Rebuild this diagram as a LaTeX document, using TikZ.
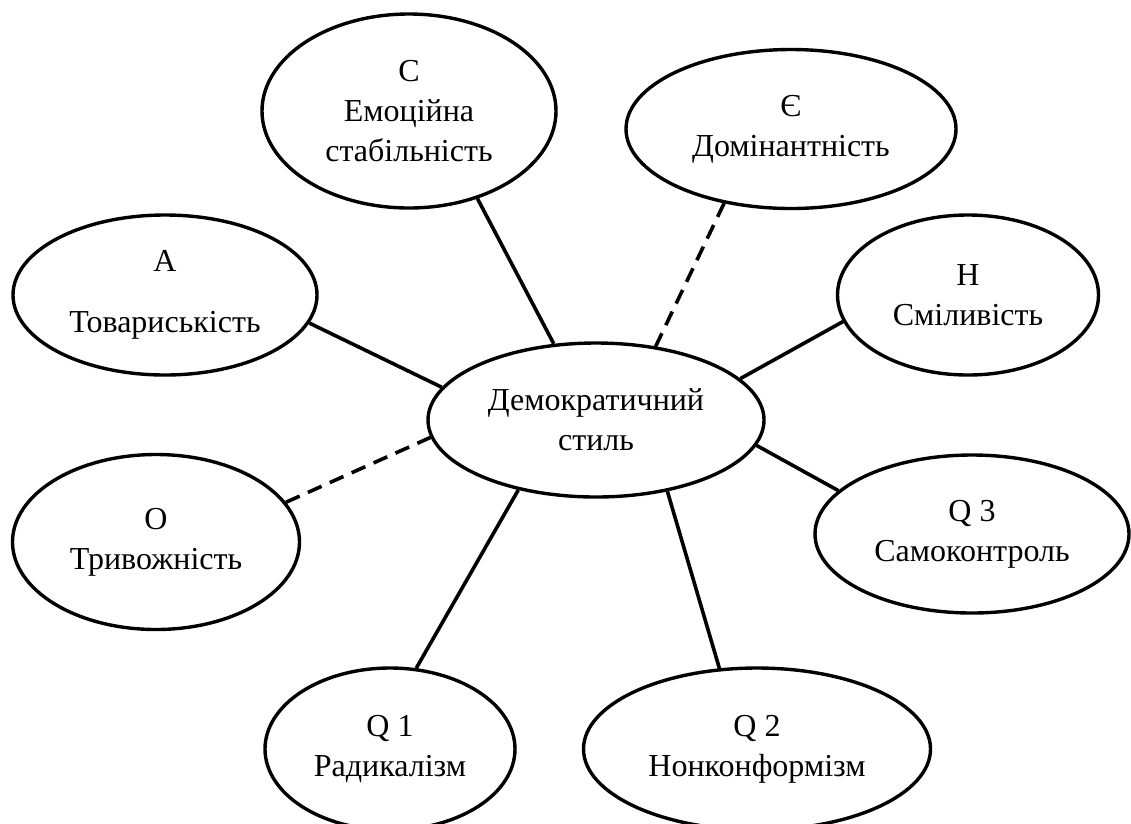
\documentclass[tikz,border=0pt]{standalone}
\usepackage{fontspec}
\setmainfont{Liberation Serif}
\usetikzlibrary{shapes.geometric}
\begin{document}
\begin{tikzpicture}[x=1pt,y=-1pt,
  bub/.style={ellipse, draw, line width=3.4pt, inner sep=0pt, align=center,
    font=\fontsize{32}{40}\selectfont, text=black},
  link/.style={line width=3.6pt},
  dlink/.style={line width=3.6pt, dash pattern=on 15pt off 9pt}]
\clip (0,0) rectangle (1131,823);
\fill[white] (0,0) rectangle (1131,823);
\node[bub, minimum width=336pt, minimum height=154pt] (m) at (596,420) {Демократичний\\стиль};
\node[bub, minimum width=294pt, minimum height=194pt] (c) at (409,111) {С\\Емоційна\\стабільність};
\node[bub, minimum width=330pt, minimum height=159pt] (e) at (791,129) {Є\\Домінантність};
\node[bub, minimum width=304pt, minimum height=160pt] (a) at (165,295) {А\\[21pt]Товариськість};
\node[bub, minimum width=261pt, minimum height=160pt] (h) at (968,295) {Н\\Сміливість};
\node[bub, minimum width=314pt, minimum height=158pt] (q3) at (972,534) {Q 3\\Самоконтроль};
\node[bub, minimum width=287pt, minimum height=175pt] (o) at (156,542) {О\\Тривожність};
\node[bub, minimum width=250pt, minimum height=162pt] (q1) at (390,749) {Q 1\\Радикалізм};
\node[bub, minimum width=347pt, minimum height=162pt] (q2) at (757,749) {Q 2\\Нонконформізм};
\draw[link] (a.-11.6) -- (m.168.8);
\draw[link] (c.-52.2) -- (m.119.7);
\draw[dlink] (e.-132.7) -- (m.51.2);
\draw[link] (h.-168.2) -- (m.16.1);
\draw[link] (q3.162.5) -- (m.-9.9);
\draw[dlink] (o.17.6) -- (m.-174.2);
\draw[link] (q1.72.8) -- (m.-138.3);
\draw[link] (q2.115.4) -- (m.-45);
\end{tikzpicture}
\end{document}
